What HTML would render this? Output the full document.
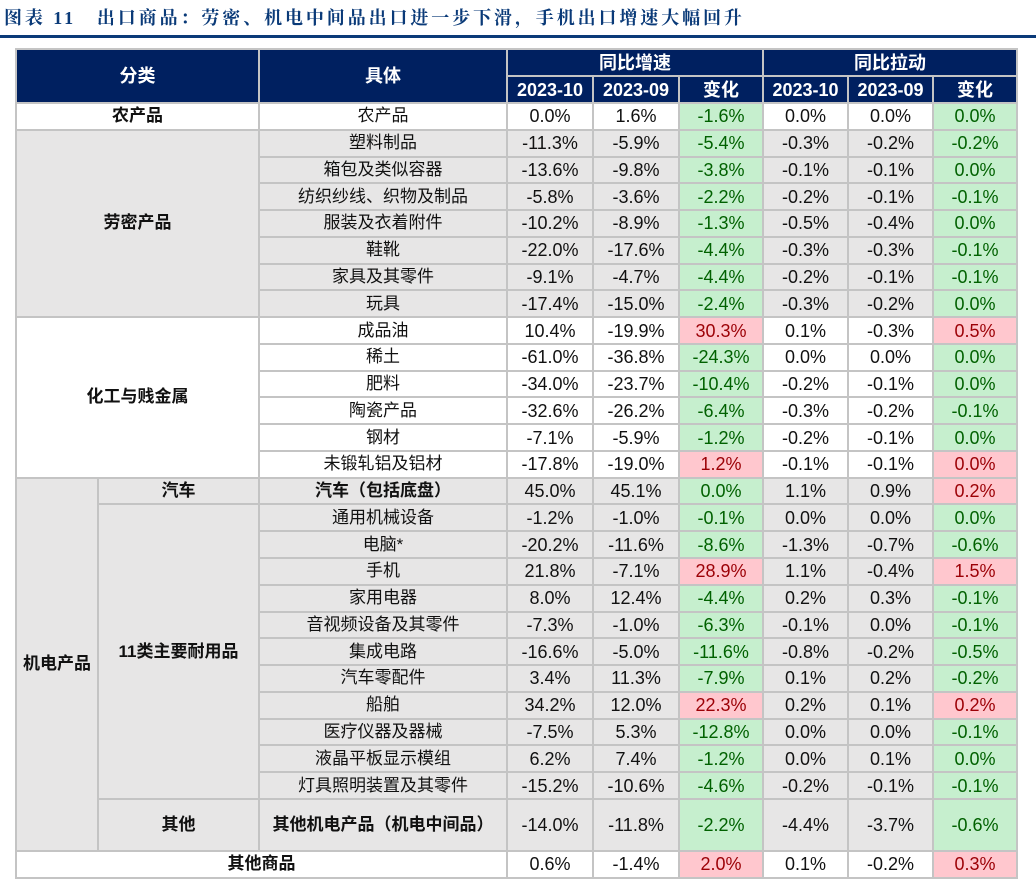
<!DOCTYPE html>
<html><head><meta charset="utf-8"><style>
body{margin:0;width:1036px;height:886px;background:#fff;position:relative;overflow:hidden;font-family:"Liberation Sans","Noto Sans CJK SC",sans-serif;}
.title{position:absolute;left:4px;top:4px;font-family:"Liberation Serif","Noto Serif CJK SC",serif;font-weight:bold;font-size:18px;color:#0a3a78;letter-spacing:2.9px;white-space:nowrap;}
.rule{position:absolute;left:0;top:35px;width:1036px;height:3px;background:#0a3a78;}
table{position:absolute;left:15px;top:48px;border-collapse:collapse;table-layout:fixed;width:1003px;}
td{border:2px solid #c4c4c4;text-align:center;font-size:18px;color:#111;padding:0;white-space:nowrap;line-height:20px;}
td.t{font-size:17px;}
tr{height:26.77px;}
tr.h td{background:#002060;color:#fff;font-weight:bold;border-color:#c4c4c4;font-size:18px;height:25px;}
.g td{background:#e7e6e6;}
td.b{font-weight:bold;font-size:17px;}
td.gr{background:#c6efce !important;color:#006100;}
td.rd{background:#ffc7ce !important;color:#9c0006;}
</style></head><body>
<div class="title">图表 11　出口商品：劳密、机电中间品出口进一步下滑，手机出口增速大幅回升</div>
<div class="rule"></div>
<table>
<colgroup><col style="width:82px"><col style="width:161px"><col style="width:248px"><col style="width:86px"><col style="width:86px"><col style="width:84px"><col style="width:85px"><col style="width:85px"><col style="width:84px"></colgroup>
<tr class="h"><td colspan="2" rowspan="2">分类</td><td rowspan="2">具体</td><td colspan="3">同比增速</td><td colspan="3">同比拉动</td></tr>
<tr class="h"><td>2023-10</td><td>2023-09</td><td>变化</td><td>2023-10</td><td>2023-09</td><td>变化</td></tr>
<tr><td colspan="2" class="b">农产品</td><td class="t">农产品</td><td>0.0%</td><td>1.6%</td><td class="gr">-1.6%</td><td>0.0%</td><td>0.0%</td><td class="gr">0.0%</td></tr>
<tr class="g"><td colspan="2" rowspan="7" class="b">劳密产品</td><td class="t">塑料制品</td><td>-11.3%</td><td>-5.9%</td><td class="gr">-5.4%</td><td>-0.3%</td><td>-0.2%</td><td class="gr">-0.2%</td></tr>
<tr class="g"><td class="t">箱包及类似容器</td><td>-13.6%</td><td>-9.8%</td><td class="gr">-3.8%</td><td>-0.1%</td><td>-0.1%</td><td class="gr">0.0%</td></tr>
<tr class="g"><td class="t">纺织纱线、织物及制品</td><td>-5.8%</td><td>-3.6%</td><td class="gr">-2.2%</td><td>-0.2%</td><td>-0.1%</td><td class="gr">-0.1%</td></tr>
<tr class="g"><td class="t">服装及衣着附件</td><td>-10.2%</td><td>-8.9%</td><td class="gr">-1.3%</td><td>-0.5%</td><td>-0.4%</td><td class="gr">0.0%</td></tr>
<tr class="g"><td class="t">鞋靴</td><td>-22.0%</td><td>-17.6%</td><td class="gr">-4.4%</td><td>-0.3%</td><td>-0.3%</td><td class="gr">-0.1%</td></tr>
<tr class="g"><td class="t">家具及其零件</td><td>-9.1%</td><td>-4.7%</td><td class="gr">-4.4%</td><td>-0.2%</td><td>-0.1%</td><td class="gr">-0.1%</td></tr>
<tr class="g"><td class="t">玩具</td><td>-17.4%</td><td>-15.0%</td><td class="gr">-2.4%</td><td>-0.3%</td><td>-0.2%</td><td class="gr">0.0%</td></tr>
<tr><td colspan="2" rowspan="6" class="b">化工与贱金属</td><td class="t">成品油</td><td>10.4%</td><td>-19.9%</td><td class="rd">30.3%</td><td>0.1%</td><td>-0.3%</td><td class="rd">0.5%</td></tr>
<tr><td class="t">稀土</td><td>-61.0%</td><td>-36.8%</td><td class="gr">-24.3%</td><td>0.0%</td><td>0.0%</td><td class="gr">0.0%</td></tr>
<tr><td class="t">肥料</td><td>-34.0%</td><td>-23.7%</td><td class="gr">-10.4%</td><td>-0.2%</td><td>-0.1%</td><td class="gr">0.0%</td></tr>
<tr><td class="t">陶瓷产品</td><td>-32.6%</td><td>-26.2%</td><td class="gr">-6.4%</td><td>-0.3%</td><td>-0.2%</td><td class="gr">-0.1%</td></tr>
<tr><td class="t">钢材</td><td>-7.1%</td><td>-5.9%</td><td class="gr">-1.2%</td><td>-0.2%</td><td>-0.1%</td><td class="gr">0.0%</td></tr>
<tr><td class="t">未锻轧铝及铝材</td><td>-17.8%</td><td>-19.0%</td><td class="rd">1.2%</td><td>-0.1%</td><td>-0.1%</td><td class="rd">0.0%</td></tr>
<tr class="g"><td rowspan="13" class="b">机电产品</td><td class="b">汽车</td><td class="b">汽车（包括底盘）</td><td>45.0%</td><td>45.1%</td><td class="gr">0.0%</td><td>1.1%</td><td>0.9%</td><td class="rd">0.2%</td></tr>
<tr class="g"><td rowspan="11" class="b">11类主要耐用品</td><td class="t">通用机械设备</td><td>-1.2%</td><td>-1.0%</td><td class="gr">-0.1%</td><td>0.0%</td><td>0.0%</td><td class="gr">0.0%</td></tr>
<tr class="g"><td class="t">电脑*</td><td>-20.2%</td><td>-11.6%</td><td class="gr">-8.6%</td><td>-1.3%</td><td>-0.7%</td><td class="gr">-0.6%</td></tr>
<tr class="g"><td class="t">手机</td><td>21.8%</td><td>-7.1%</td><td class="rd">28.9%</td><td>1.1%</td><td>-0.4%</td><td class="rd">1.5%</td></tr>
<tr class="g"><td class="t">家用电器</td><td>8.0%</td><td>12.4%</td><td class="gr">-4.4%</td><td>0.2%</td><td>0.3%</td><td class="gr">-0.1%</td></tr>
<tr class="g"><td class="t">音视频设备及其零件</td><td>-7.3%</td><td>-1.0%</td><td class="gr">-6.3%</td><td>-0.1%</td><td>0.0%</td><td class="gr">-0.1%</td></tr>
<tr class="g"><td class="t">集成电路</td><td>-16.6%</td><td>-5.0%</td><td class="gr">-11.6%</td><td>-0.8%</td><td>-0.2%</td><td class="gr">-0.5%</td></tr>
<tr class="g"><td class="t">汽车零配件</td><td>3.4%</td><td>11.3%</td><td class="gr">-7.9%</td><td>0.1%</td><td>0.2%</td><td class="gr">-0.2%</td></tr>
<tr class="g"><td class="t">船舶</td><td>34.2%</td><td>12.0%</td><td class="rd">22.3%</td><td>0.2%</td><td>0.1%</td><td class="rd">0.2%</td></tr>
<tr class="g"><td class="t">医疗仪器及器械</td><td>-7.5%</td><td>5.3%</td><td class="gr">-12.8%</td><td>0.0%</td><td>0.0%</td><td class="gr">-0.1%</td></tr>
<tr class="g"><td class="t">液晶平板显示模组</td><td>6.2%</td><td>7.4%</td><td class="gr">-1.2%</td><td>0.0%</td><td>0.1%</td><td class="gr">0.0%</td></tr>
<tr class="g"><td class="t">灯具照明装置及其零件</td><td>-15.2%</td><td>-10.6%</td><td class="gr">-4.6%</td><td>-0.2%</td><td>-0.1%</td><td class="gr">-0.1%</td></tr>
<tr class="g" style="height:52px"><td class="b">其他</td><td class="b">其他机电产品（机电中间品）</td><td>-14.0%</td><td>-11.8%</td><td class="gr">-2.2%</td><td>-4.4%</td><td>-3.7%</td><td class="gr">-0.6%</td></tr>
<tr style="height:27px"><td colspan="3" class="b">其他商品</td><td>0.6%</td><td>-1.4%</td><td class="rd">2.0%</td><td>0.1%</td><td>-0.2%</td><td class="rd">0.3%</td></tr>
</table>
</body></html>
